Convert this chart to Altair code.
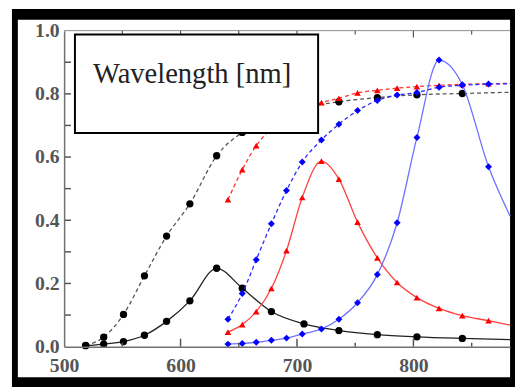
import altair as alt
import pandas as pd

# ---- data ----
x_end = 883
x_black = [518.5, 534, 551, 569, 588, 608, 631, 653, 678, 706, 736, 769, 803, 842]
black_solid = [0.003, 0.008, 0.016, 0.036, 0.080, 0.145, 0.248, 0.185, 0.111, 0.072, 0.051, 0.038, 0.031, 0.026]
black_solid_end = 0.022
black_dashed = [0.004, 0.030, 0.102, 0.224, 0.350, 0.452, 0.604, 0.678, 0.722, 0.755, 0.775, 0.788, 0.797, 0.801]
black_dashed_end = 0.805

x_rb = [640.7, 653, 665, 678, 691, 704.5, 721, 736, 752, 769, 786, 803, 822, 842, 864.5]
red_solid = [0.046, 0.070, 0.111, 0.184, 0.304, 0.472, 0.587, 0.530, 0.394, 0.281, 0.203, 0.155, 0.121, 0.098, 0.082]
red_solid_end = 0.068
red_dashed = [0.465, 0.560, 0.636, 0.690, 0.728, 0.752, 0.772, 0.786, 0.803, 0.811, 0.818, 0.823, 0.827, 0.830, 0.832]
red_dashed_end = 0.833
blue_dashed = [0.087, 0.168, 0.275, 0.389, 0.494, 0.584, 0.654, 0.704, 0.747, 0.779, 0.796, 0.804, 0.821, 0.827, 0.831]
blue_dashed_end = 0.832
blue_solid = [0.008, 0.010, 0.014, 0.020, 0.027, 0.040, 0.056, 0.087, 0.139, 0.228, 0.392, 0.662, 0.907, 0.829, 0.569]
blue_solid_end = 0.413

x_labels = [500, 600, 700, 800]
y_labels = [0.0, 0.2, 0.4, 0.6, 0.8, 1.0]
y_ticks = [0.1, 0.2, 0.3, 0.4, 0.5, 0.6, 0.7, 0.8, 0.9]
x_ticks_major = [600, 700, 800]
x_ticks_minor = [550, 650, 750, 850]
box_label = "Wavelength [nm]"

W, H = 453, 321

xscale = alt.Scale(domain=[500, x_end], nice=False, zero=False)
yscale = alt.Scale(domain=[0, 1], nice=False, zero=False)
lab = dict(labelFont="Liberation Serif", labelFontSize=20, labelFontWeight="bold",
           labelColor="#555555",
           ticks=False, grid=False, title=None, domainColor="#707070",
           domainWidth=1.5, labelFlush=False, labelOverlap=False, zindex=1)
xaxis = alt.Axis(values=x_labels, labelPadding=9, **lab)
yaxis = alt.Axis(values=y_labels, format=".1f", labelPadding=5, **lab)
X = alt.X("x:Q", scale=xscale, axis=xaxis)
Y = alt.Y("y:Q", scale=yscale, axis=yaxis)

one = pd.DataFrame({"a": [0]})

black_bg = alt.Chart(one).mark_rect(color="black").encode(
    x=alt.value(-53), x2=alt.value(462), y=alt.value(-22), y2=alt.value(362))
white_bg = alt.Chart(one).mark_rect(color="white").encode(
    x=alt.value(-47), x2=alt.value(W), y=alt.value(-11), y2=alt.value(352))
top_line = alt.Chart(one).mark_rule(color="#8a8a8a", strokeWidth=1).encode(
    x=alt.value(0), x2=alt.value(W), y=alt.value(0))


def series(xs, ys, yend, color, linecolor, shape, size, dash=None, width=1.3):
    ldf = pd.DataFrame({"x": xs + [x_end], "y": ys + [yend]})
    pdf = pd.DataFrame({"x": xs, "y": ys})
    kw = dict(color=linecolor, strokeWidth=width, interpolate="monotone")
    if dash:
        kw["strokeDash"] = dash
    line = alt.Chart(ldf).mark_line(**kw).encode(x=X, y=Y)
    pts = alt.Chart(pdf).mark_point(shape=shape, filled=True, size=size,
                                    color=color, opacity=1).encode(x=X, y=Y)
    return [line, pts]


layers = [black_bg, white_bg, top_line]
layers += series(x_black, black_dashed, black_dashed_end, "black", "#555555", "circle", 55, [4, 3])
layers += series(x_black, black_solid, black_solid_end, "black", "#222222", "circle", 55)
layers += series(x_rb, red_dashed, red_dashed_end, "#ff0000", "#ff3030", "triangle-up", 45, [4, 3])
layers += series(x_rb, red_solid, red_solid_end, "#ff0000", "#ff4040", "triangle-up", 45)
layers += series(x_rb, blue_dashed, blue_dashed_end, "#0000ff", "#2a2aff", "diamond", 50, [4, 3])
layers += series(x_rb, blue_solid, blue_solid_end, "#0000ff", "#7070ff", "diamond", 50)

lt = alt.Chart(pd.DataFrame({"y": y_ticks})).mark_rule(color="#555555", strokeWidth=1.5).encode(
    y=Y, x=alt.value(0), x2=alt.value(7))
bt_major = alt.Chart(pd.DataFrame({"x": x_ticks_major})).mark_rule(color="#555555", strokeWidth=1.5).encode(
    x=X, y=alt.value(H), y2=alt.value(H - 8))
bt_minor = alt.Chart(pd.DataFrame({"x": x_ticks_minor})).mark_rule(color="#555555", strokeWidth=1.5).encode(
    x=X, y=alt.value(H), y2=alt.value(H - 4))
tt_major = alt.Chart(pd.DataFrame({"x": x_ticks_major})).mark_rule(color="#555555", strokeWidth=1.2).encode(
    x=X, y=alt.value(0), y2=alt.value(7))
tt_minor = alt.Chart(pd.DataFrame({"x": x_ticks_minor})).mark_rule(color="#555555", strokeWidth=1.2).encode(
    x=X, y=alt.value(0), y2=alt.value(4))
layers += [lt, bt_major, bt_minor, tt_major, tt_minor]

box = alt.Chart(one).mark_rect(fill="white", stroke="black", strokeWidth=2).encode(
    x=alt.value(11), x2=alt.value(258), y=alt.value(4), y2=alt.value(104))
txt = alt.Chart(one).mark_text(text=box_label, font="Liberation Serif", fontSize=29,
                               color="#222222", align="center", baseline="middle").encode(
    x=alt.value(130), y=alt.value(44))
layers += [box, txt]

chart = alt.layer(*layers).properties(
    width=W, height=H,
    autosize=alt.AutoSizeParams(type="none"),
    padding={"left": 57, "top": 20, "right": 5, "bottom": 38},
).configure_view(stroke=None).configure(background="white")

chart.save("out.html", embed_options={"renderer": "svg", "actions": False})
